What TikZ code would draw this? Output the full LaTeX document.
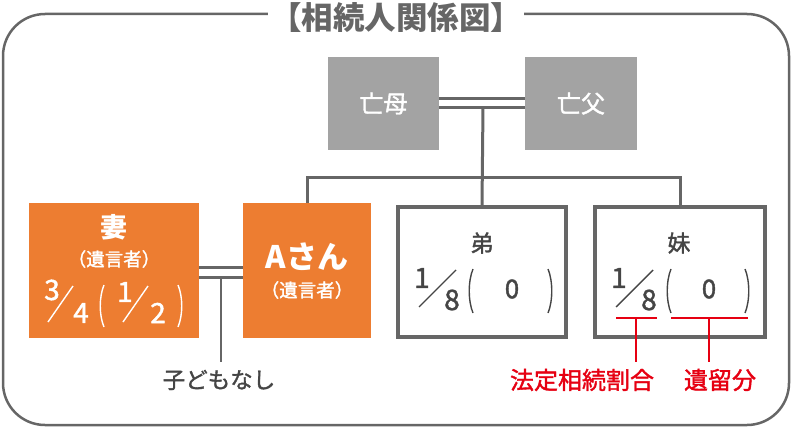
\documentclass[tikz,border=0pt]{standalone}
\usepackage{fontspec}
\setmainfont{Noto Sans CJK JP}
\newfontfamily\jpmed[FakeBold=1.5]{Noto Sans CJK JP}
\usetikzlibrary{calc}
\definecolor{framegray}{HTML}{666666}
\definecolor{boxgray}{HTML}{A3A3A3}
\definecolor{orng}{HTML}{ED7D31}
\definecolor{txt}{HTML}{454545}
\definecolor{redc}{HTML}{E60012}
\newcommand\fs[1]{\fontsize{#1}{#1}\selectfont}
\newcommand\myLP[4]{\draw[#4] (#1+3,#2) .. controls (#1-2,#2+12) and (#1-2,#3-12) .. (#1+3,#3);}
\newcommand\myRP[4]{\draw[#4] (#1-3,#2) .. controls (#1+2,#2+12) and (#1+2,#3-12) .. (#1-3,#3);}
\begin{document}
\begin{tikzpicture}[x=1pt,y=-1pt,
  conn/.style={draw=framegray,line width=3pt},
  redline/.style={draw=redc,line width=2pt},
  graybox/.style={fill=boxgray,minimum width=111pt,minimum height=93pt,inner sep=0pt},
  orbox/.style={fill=orng,minimum height=135pt,inner sep=0pt},
  whbox/.style={draw=framegray,line width=4pt,fill=white,minimum width=168pt,minimum height=130pt,inner sep=0pt},
  wtxt/.style={text=white,inner sep=0pt},
  dtxt/.style={text=txt,inner sep=0pt},
  digit/.style={inner sep=0pt,font=\jpmed\fs{28}},
  parw/.style={draw=white,line width=1.4pt},
  pard/.style={draw=txt,line width=1.4pt},
]
\useasboundingbox (0,0) rectangle (792,428);
% frame
\draw[framegray,line width=2.5pt,rounded corners=42pt] (3,14) rectangle (789,425);
\node[fill=white,text=framegray,font=\fs{31.5}\bfseries,inner xsep=2pt,inner ysep=2pt] (title) at (396,18) {【相続人関係図】};

% boxes
\node[graybox] (mother) at (383.5,103.5) {};
\node[graybox,minimum width=112pt] (father) at (581,103.5) {};
\node[orbox,minimum width=170pt] (wife) at (114,270.5) {};
\node[orbox,minimum width=128pt] (asan) at (307,270.5) {};
\node[whbox] (brother) at (482,272) {};
\node[whbox,minimum width=170pt] (sister) at (680,272) {};

% texts in top boxes
\node[wtxt,font=\jpmed\fs{24}] (motherT) at (mother) {亡母};
\node[wtxt,font=\jpmed\fs{24}] (fatherT) at (father) {亡父};

% connectors
\coordinate (pm) at (483,107);
\coordinate (pj) at (483,177);
\draw[conn] ([yshift=5.5pt]mother.east) -- ([yshift=5.5pt]father.west);
\draw[conn] ([yshift=-3.5pt]mother.east) -- ([yshift=-3.5pt]father.west);
\draw[conn] (pm) -- (brother.north);
\draw[conn] (asan.north) -- (asan.north |- pj) -- (sister.north |- pj) -- (sister.north);

\draw[conn] ([yshift=3.5pt]wife.east) -- ([yshift=3.5pt]asan.west);
\draw[conn] ([yshift=-6.5pt]wife.east) -- ([yshift=-6.5pt]asan.west);
\coordinate (nc1) at (221,277);
\coordinate (nc2) at (221,362);
\draw[draw=framegray,line width=2pt] (nc1) -- (nc2);
\node[dtxt,font=\jpmed\fs{22.5}] (nochild) at (219,380) {子どもなし};

% wife box text
\node[wtxt,font=\fs{27}\bfseries] (wifeT) at (114,227) {妻};
\node[wtxt,font=\jpmed\fs{18.5}] (wifeW) at (114,259) {（遺言者）};
\node[digit,text=white] (w3) at (52,290) {3};
\node[digit,text=white] (w4) at (81,313) {4};
\draw[draw=white,line width=1.4pt] (48,322) -- (73,286);
\myLP{101}{285}{327}{parw}
\node[digit,text=white] (w1) at (125,292) {1};
\node[digit,text=white] (w2) at (158,313) {2};
\draw[draw=white,line width=1.4pt] (123,322) -- (148,286);
\myRP{181}{285}{327}{parw}

% A-san text
\node[wtxt,font=\fs{31}\bfseries] (asanT) at (307,257) {Aさん};
\node[wtxt,font=\jpmed\fs{18.5}] (asanW) at (307,290) {（遺言者）};

% brother text
\node[dtxt,font=\jpmed\fs{23}] (broT) at (482,243) {弟};
\node[digit,text=txt] (b1) at (422,278) {1};
\node[digit,text=txt] (b8) at (452,300) {8};
\draw[draw=txt,line width=1.4pt] (419,307) -- (456,270);
\myLP{470}{269}{313}{pard}
\node[digit,text=txt,font=\jpmed\fs{26}] (b0) at (512,289) {0};
\myRP{551}{269}{313}{pard}

% sister text
\node[dtxt,font=\jpmed\fs{23}] (sisT) at (679,243) {妹};
\node[digit,text=txt] (s1) at (619,278) {1};
\node[digit,text=txt] (s8) at (649,300) {8};
\draw[draw=txt,line width=1.4pt] (616,307) -- (653,270);
\myLP{668}{269}{313}{pard}
\node[digit,text=txt,font=\jpmed\fs{26}] (s0) at (709,289) {0};
\myRP{748}{269}{313}{pard}

% red markers
\coordinate (ra1) at (616,318);
\coordinate (ra2) at (657,318);
\coordinate (ra3) at (636,318);
\coordinate (ra4) at (636,362);
\coordinate (rb1) at (671,318);
\coordinate (rb2) at (748,318);
\coordinate (rb3) at (709,318);
\coordinate (rb4) at (709,362);
\draw[redline] (ra1) -- (ra2);
\draw[redline] (ra3) -- (ra4);
\draw[redline] (rb1) -- (rb2);
\draw[redline] (rb3) -- (rb4);
\node[text=redc,inner sep=0pt,font=\jpmed\fs{24}] (legal) at (582,380) {法定相続割合};
\node[text=redc,inner sep=0pt,font=\jpmed\fs{24}] (reserve) at (720,380) {遺留分};
\end{tikzpicture}
\end{document}
